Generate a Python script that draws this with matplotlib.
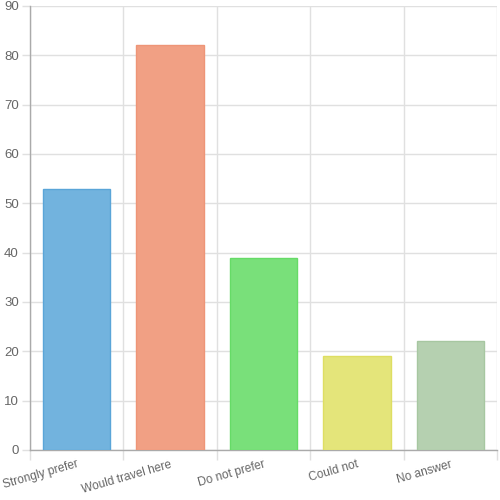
import matplotlib
matplotlib.use("Agg")
import matplotlib.pyplot as plt

categories = ["Strongly prefer", "Would travel here", "Do not prefer", "Could not", "No answer"]
values = [53, 82, 39, 19, 22]
fill_colors = ["#72b3de", "#f1a084", "#79e07a", "#e4e57a", "#b5d0b0"]
edge_colors = ["#5aa5d8", "#ee9577", "#66db67", "#dede62", "#a7c7a1"]
y_ticks = [0, 10, 20, 30, 40, 50, 60, 70, 80, 90]

plt.rcParams['font.family'] = ['Liberation Sans', 'DejaVu Sans']

fig = plt.figure(figsize=(5, 5), dpi=100)
ax = fig.add_axes([0.06, 0.1, 0.934, 0.888])

x = list(range(len(categories)))
ax.bar(x, values, width=0.72, color=fill_colors, edgecolor=edge_colors, linewidth=1, zorder=3)

ax.set_xlim(-0.5, len(categories) - 0.5)
ax.set_ylim(0, 90)
ax.set_yticks(y_ticks)
ax.set_yticklabels([str(t) for t in y_ticks])

# vertical grid lines at category boundaries
bounds = [i - 0.5 for i in range(len(categories) + 1)]
ax.set_xticks(bounds, minor=True)
ax.set_xticks(x)
ax.set_xticklabels(categories, rotation=16, ha='right', va='top', rotation_mode='anchor')
ax.grid(True, axis='y', color='#e0e0e0', linewidth=1, zorder=0)
ax.grid(True, axis='x', which='minor', color='#e0e0e0', linewidth=1, zorder=0)
ax.tick_params(axis='x', which='major', length=0, pad=6, labelsize=8.6, labelcolor='#666666')
ax.tick_params(axis='x', which='minor', length=7, color='#e0e0e0', width=1)
ax.tick_params(axis='y', length=6, color='#e0e0e0', width=1, labelsize=9.5, labelcolor='#666666', pad=2)

for s in ['top', 'right']:
    ax.spines[s].set_visible(False)
for s in ['left', 'bottom']:
    ax.spines[s].set_color('#aaaaaa')
    ax.spines[s].set_linewidth(1)

fig.savefig("out.png", dpi=100)
